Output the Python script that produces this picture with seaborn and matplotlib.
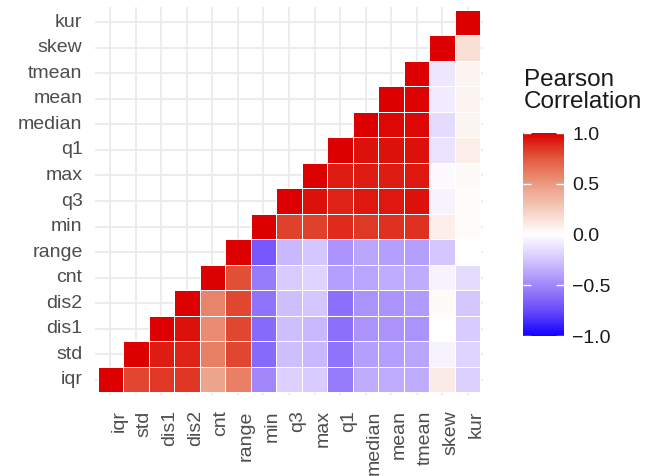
import numpy as np
import pandas as pd
import matplotlib
matplotlib.use('Agg')
import matplotlib.pyplot as plt
import seaborn as sns
from matplotlib.colors import LinearSegmentedColormap

variables = ['iqr', 'std', 'dis1', 'dis2', 'cnt', 'range', 'min', 'q3', 'max',
             'q1', 'median', 'mean', 'tmean', 'skew', 'kur']

# each row: correlation of the variable with itself and every variable to its right
r_iqr = [1.00, 0.80, 0.84, 0.85, 0.45, 0.60, -0.50, -0.20, -0.22, -0.55, -0.35, -0.35, -0.35, 0.10, -0.20]
r_std = [1.00, 0.92, 0.90, 0.60, 0.80, -0.62, -0.28, -0.30, -0.58, -0.40, -0.40, -0.38, -0.05, -0.18]
r_dis1 = [1.00, 0.95, 0.55, 0.80, -0.62, -0.28, -0.30, -0.60, -0.45, -0.45, -0.45, 0.00, -0.22]
r_dis2 = [1.00, 0.58, 0.80, -0.58, -0.28, -0.25, -0.60, -0.45, -0.45, -0.42, 0.03, -0.25]
r_cnt = [1.00, 0.78, -0.55, -0.22, -0.18, -0.40, -0.38, -0.35, -0.35, -0.05, -0.15]
r_range = [1.00, -0.70, -0.30, -0.25, -0.45, -0.38, -0.40, -0.40, -0.25, 0.00]
r_min = [1.00, 0.82, 0.82, 0.88, 0.84, 0.86, 0.86, 0.08, 0.02]
r_q3 = [1.00, 0.95, 0.90, 0.93, 0.93, 0.95, -0.05, 0.02]
r_max = [1.00, 0.92, 0.92, 0.92, 0.93, -0.02, 0.03]
r_q1 = [1.00, 0.95, 0.95, 0.95, -0.12, 0.08]
r_median = [1.00, 0.97, 0.97, -0.15, 0.05]
r_mean = [1.00, 0.99, -0.08, 0.05]
r_tmean = [1.00, -0.10, 0.05]
r_skew = [1.00, 0.15]
r_kur = [1.00]

rows = [r_iqr, r_std, r_dis1, r_dis2, r_cnt, r_range, r_min, r_q3, r_max,
        r_q1, r_median, r_mean, r_tmean, r_skew, r_kur]

n = len(variables)
mat = np.full((n, n), np.nan)
for i, r in enumerate(rows):
    mat[i, i:] = r

df = pd.DataFrame(mat, index=variables, columns=variables).iloc[::-1]

plt.rcParams['font.family'] = ['Liberation Sans', 'DejaVu Sans']

cmap = LinearSegmentedColormap.from_list('pearson', [
    (0.0, '#1400FF'), (0.125, '#6A4CFB'), (0.25, '#A287FA'), (0.375, '#D3C5FF'),
    (0.5, '#FFFFFF'), (0.625, '#F5CDBE'), (0.75, '#EB9A80'), (0.875, '#E25A3D'),
    (1.0, '#DC0000')])

fig = plt.figure(figsize=(6.49, 4.76), dpi=100)
ax = fig.add_axes([95 / 649, 1 - 395 / 476, 388 / 649, 388 / 476])
cax = fig.add_axes([523 / 649, 1 - 336 / 476, 41 / 649, 203 / 476])

sns.heatmap(df, ax=ax, cbar_ax=cax, cmap=cmap, vmin=-1, vmax=1,
            linewidths=0.6, linecolor='white')

# white borders only around the drawn tiles, so the grid stays solid elsewhere
mesh = ax.collections[0]
empty = np.isnan(df.values).ravel()
edges = np.tile([1.0, 1.0, 1.0, 1.0], (empty.size, 1))
edges[empty, 3] = 0.0
mesh.set_edgecolor(edges)

ax.set_xlim(-0.1, n + 0.1)
ax.set_ylim(n + 0.1, -0.1)
ax.set_axisbelow(True)
ax.grid(True, color='#EBEBEB', lw=1.3)
ax.set_xlabel('')
ax.set_ylabel('')
ax.tick_params(length=0, labelsize=14, labelcolor='#4D4D4D')
ax.tick_params(axis='y', pad=9)
ax.tick_params(axis='x', pad=11)
plt.setp(ax.get_yticklabels(), rotation=0)
plt.setp(ax.get_xticklabels(), rotation=90, rotation_mode='anchor', ha='right', va='top')

cbar = mesh.colorbar
cbar.outline.set_visible(False)
cbar.set_ticks([-1, -0.5, 0, 0.5, 1])
cbar.set_ticklabels(['\u22121.0', '\u22120.5', '0.0', '0.5', '1.0'])
cax.tick_params(direction='in', color='white', length=6, width=1,
                left=True, right=True, labelsize=14, pad=6, labelcolor='#1A1A1A')

fig.text(524 / 649, 1 - 69 / 476, 'Pearson\nCorrelation', ha='left', va='top',
         fontsize=17.5, linespacing=1.0, color='#1A1A1A')

fig.savefig('out.png', dpi=100)
